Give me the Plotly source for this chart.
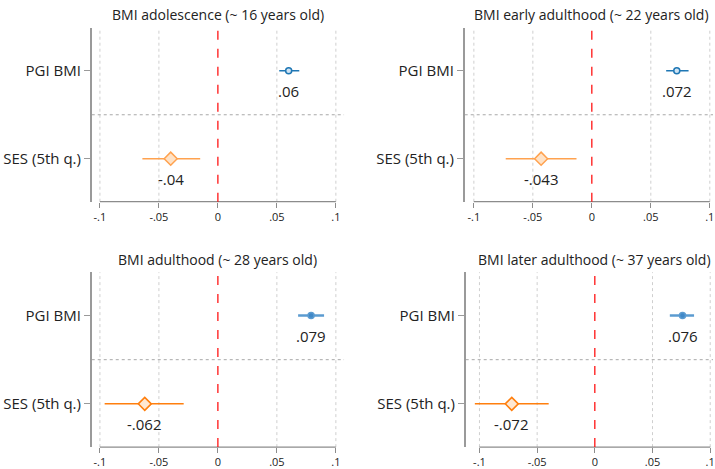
import plotly.graph_objects as go

# ---- data ----
panel_titles = [
    "BMI adolescence (~ 16 years old)",
    "BMI early adulthood (~ 22 years old)",
    "BMI adulthood (~ 28 years old)",
    "BMI later adulthood (~ 37 years old)",
]
categories = ["PGI BMI", "SES (5th q.)"]

pgi_coef = [0.060, 0.072, 0.079, 0.076]
pgi_lo = [0.052, 0.063, 0.068, 0.065]
pgi_hi = [0.069, 0.082, 0.090, 0.086]

ses_coef = [-0.040, -0.043, -0.062, -0.072]
ses_lo = [-0.064, -0.073, -0.096, -0.104]
ses_hi = [-0.015, -0.013, -0.029, -0.040]

x_tickvals = [-0.1, -0.05, 0, 0.05, 0.1]
x_ticktext = ["-.1", "-.05", "0", ".05", ".1"]

# ---- layout (pixel geometry of each panel) ----
W, H = 715, 469
# (left px, right px, top px, bottom px, zero px, px per unit)
panels = [
    (92, 345, 28, 203, 218.5, 1183),
    (466, 715, 28, 203, 593.5, 1183),
    (92, 345, 274, 450, 218.5, 1183),
    (467, 715, 274, 450, 596.5, 1157),
]
title_y_px = [15, 15, 261, 261]

pgi_line = ["#1f77b4", "#1f77b4", "#5b9bd0", "#5b9bd0"]
pgi_fill = ["#cfe3f3", "#cfe3f3", "#3f88c8", "#3f88c8"]
pgi_width = [1.5, 1.5, 2.5, 2.5]
ses_line = ["#ffa24f", "#ffa24f", "#ff7f0e", "#ff7f0e"]
ses_fill = ["#ffe2c6", "#ffe2c6", "#ffe8d2", "#ffe8d2"]

FONT = "Open Sans"

def fmt(v):
    s = f"{round(v, 3):g}"
    return s.replace("0.", ".", 1)

fig = go.Figure()
annotations = []
shapes = []

for i in range(4):
    l, r, t, b, z, s = panels[i]
    xmin, xmax = (l - z) / s, (r - z) / s
    xa = "x" if i == 0 else f"x{i+1}"
    ya = "y" if i == 0 else f"y{i+1}"
    xkey = "xaxis" if i == 0 else f"xaxis{i+1}"
    ykey = "yaxis" if i == 0 else f"yaxis{i+1}"

    fig.update_layout(**{
        xkey: dict(
            domain=[l / W, r / W], anchor=ya, range=[xmin, xmax],
            tickvals=x_tickvals, ticktext=x_ticktext,
            showgrid=False,
            zeroline=False, showline=False, ticks="outside", ticklen=5,
            tickcolor="#8c8c8c", tickwidth=1, ticklabeloverflow="allow",
            tickfont=dict(family=FONT, size=11, color="#222"),
        ),
        ykey: dict(
            domain=[1 - b / H, 1 - t / H], anchor=xa, range=[1.49, -0.49],
            tickvals=[0, 1], ticktext=categories,
            showgrid=False, zeroline=False, showline=True,
            linecolor="#9a9a9a", linewidth=1.5,
            ticks="outside", ticklen=6, tickcolor="#9a9a9a", tickwidth=1.2,
            tickfont=dict(family=FONT, size=15, color="#222"),
        ),
    })

    # vertical dotted gridlines (except at zero, where the reference line is)
    for tv in x_tickvals:
        if tv == 0:
            continue
        shapes.append(dict(type="line", xref=xa, yref=f"{ya} domain",
                           x0=tv, x1=tv, y0=0, y1=1, layer="below",
                           line=dict(color="#cfcfcf", width=1, dash="dot")))
    # x axis line spanning the tick range only
    shapes.append(dict(type="line", xref=xa, yref=f"{ya} domain",
                       x0=x_tickvals[0], x1=x_tickvals[-1], y0=0, y1=0,
                       line=dict(color="#8c8c8c", width=1.2)))
    # separator between rows
    shapes.append(dict(type="line", xref=f"{xa} domain", yref=ya,
                       x0=0, x1=1, y0=0.5, y1=0.5, layer="below",
                       line=dict(color="#a8a8a8", width=1, dash="dot")))
    # zero reference
    shapes.append(dict(type="line", xref=xa, yref=f"{ya} domain",
                       x0=0, x1=0, y0=0, y1=1,
                       line=dict(color="#ff0000", width=1.2, dash="dash")))

    # CIs
    fig.add_trace(go.Scatter(x=[pgi_lo[i], pgi_hi[i]], y=[0, 0], mode="lines",
                             line=dict(color=pgi_line[i], width=pgi_width[i]),
                             xaxis=xa, yaxis=ya, showlegend=False, hoverinfo="skip"))
    fig.add_trace(go.Scatter(x=[ses_lo[i], ses_hi[i]], y=[1, 1], mode="lines",
                             line=dict(color=ses_line[i], width=1.5),
                             xaxis=xa, yaxis=ya, showlegend=False, hoverinfo="skip"))
    # point estimates
    fig.add_trace(go.Scatter(x=[pgi_coef[i]], y=[0], mode="markers",
                             marker=dict(symbol="circle", size=6, color=pgi_fill[i],
                                         line=dict(color=pgi_line[i], width=1.5)),
                             xaxis=xa, yaxis=ya, showlegend=False))
    fig.add_trace(go.Scatter(x=[ses_coef[i]], y=[1], mode="markers",
                             marker=dict(symbol="diamond", size=10, color=ses_fill[i],
                                         line=dict(color=ses_line[i], width=1.5)),
                             xaxis=xa, yaxis=ya, showlegend=False))

    # value labels
    for yv, v in [(0, pgi_coef[i]), (1, ses_coef[i])]:
        annotations.append(dict(x=v, y=yv, xref=xa, yref=ya, text=fmt(v),
                                showarrow=False, yshift=-20,
                                font=dict(family=FONT, size=15, color="#222")))
    # panel title
    annotations.append(dict(x=0, y=1 - title_y_px[i] / H, xref=xa, yref="paper",
                            text=panel_titles[i], showarrow=False,
                            xanchor="center", yanchor="middle",
                            font=dict(family=FONT, size=14, color="#222")))

fig.update_layout(
    width=W, height=H, margin=dict(l=0, r=0, t=0, b=0),
    paper_bgcolor="white", plot_bgcolor="white",
    annotations=annotations, shapes=shapes, showlegend=False,
)

fig.write_html("out.html")
